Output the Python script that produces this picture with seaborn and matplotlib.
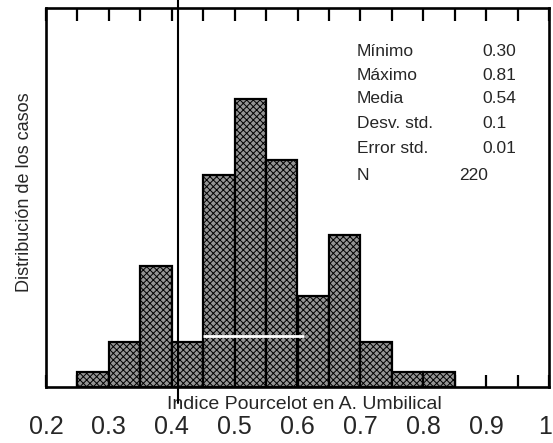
import numpy as np
import pandas as pd
import matplotlib
matplotlib.use("Agg")
import matplotlib.pyplot as plt
import matplotlib.transforms as mtransforms
import seaborn as sns

# ---- data ----
bin_edges = [0.25, 0.30, 0.35, 0.40, 0.45, 0.50, 0.55, 0.60, 0.65, 0.70, 0.75, 0.80, 0.85]
counts = [1, 3, 8, 3, 14, 19, 15, 6, 10, 3, 1, 1]
tick_values = [0.2, 0.3, 0.4, 0.5, 0.6, 0.7, 0.8, 0.9, 1.0]
tick_labels = ["0.2", "0.3", "0.4", "0.5", "0.6", "0.7", "0.8", "0.9", "1"]
minor_ticks = [0.25, 0.35, 0.45, 0.55, 0.65, 0.75, 0.85, 0.95]
cut_value = 0.41
stat_labels = ["Mínimo", "Máximo", "Media", "Desv. std.", "Error std.", "N"]
stat_values = ["0.30", "0.81", "0.54", "0.1", "0.01", "220"]
x_title = "Indice Pourcelot en A. Umbilical"
y_title = "Distribución de los casos"

sns.set_style("white")
plt.rcParams["font.family"] = ["Liberation Sans", "DejaVu Sans"]
plt.rcParams["hatch.linewidth"] = 0.7

centers = [(a + b) / 2 for a, b in zip(bin_edges[:-1], bin_edges[1:])]
df = pd.DataFrame({"x": centers, "w": counts})

fig = plt.figure(figsize=(5.53, 4.43), dpi=100)
ax = fig.add_axes([46 / 553, 56 / 443, 503 / 553, 379 / 443])

sns.histplot(data=df, x="x", weights="w", bins=bin_edges, ax=ax,
             color="#8a8a8a", edgecolor="black", linewidth=1.6, alpha=1.0)
for p in ax.patches:
    p.set_hatch("xxxxx")
    p.set_facecolor("#949494")

ax.set_xlim(0.2, 1.0)
ax.set_ylim(0, 25)

for s in ax.spines.values():
    s.set_visible(True)
    s.set_color("black")
    s.set_linewidth(1.9)

ax.set_xticks(tick_values)
ax.set_xticklabels(tick_labels)
ax.set_xticks(minor_ticks, minor=True)
ax.tick_params(axis="x", which="both", direction="in", length=9, width=1.6,
               top=True, bottom=True, color="black")
ax.tick_params(axis="x", which="major", labelsize=18, pad=20)
ax.set_yticks([])

# keep the last label ("1") inside the figure
last = ax.get_xticklabels()[-1]
last.set_transform(last.get_transform() + mtransforms.ScaledTranslation(-4 / 100, 0, fig.dpi_scale_trans))

ax.set_xlabel(x_title, fontsize=14)
ax.xaxis.set_label_coords(0.513, -0.045)
ax.xaxis.label.set_verticalalignment("center")
ax.set_ylabel(y_title, fontsize=13)
ax.yaxis.set_label_coords(-0.026, 0.513)

ax.axvline(cut_value, ymin=-0.042, ymax=1.03, color="black", lw=1.5, clip_on=False)

# white scan artefact line across central bars
ax.hlines(3.36, 0.45, 0.61, color="white", lw=2)

rows_y = [0.884, 0.821, 0.760, 0.694, 0.628, 0.559]
for lab, val, yy in zip(stat_labels, stat_values, rows_y):
    ax.text(0.618, yy, lab, transform=ax.transAxes, fontsize=12.5, va="center", ha="left")
    xv = 0.821 if lab == "N" else 0.867
    ax.text(xv, yy, val, transform=ax.transAxes, fontsize=12.5, va="center", ha="left")

fig.savefig("out.png", dpi=100)
